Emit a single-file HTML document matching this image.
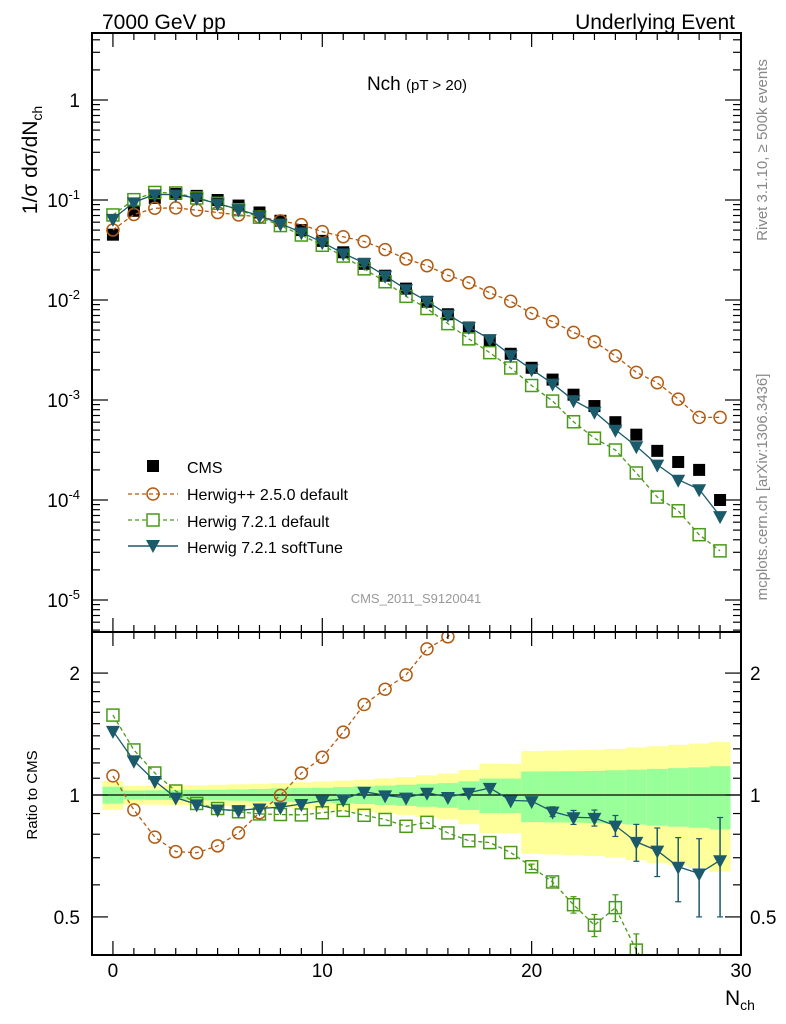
<!DOCTYPE html>
<html><head><meta charset="utf-8">
<style>
html,body{margin:0;padding:0;background:#fff;width:786px;height:1024px;overflow:hidden;}
svg{display:block;font-family:"Liberation Sans",sans-serif;}
</style></head>
<body>
<svg id="chart" width="786" height="1024" viewBox="0 0 786 1024" xmlns="http://www.w3.org/2000/svg">
<text x="102" y="29" font-size="21">7000 GeV pp</text>
<text x="735" y="29" font-size="21" text-anchor="end">Underlying Event</text>
<text x="417" y="90" font-size="19" text-anchor="middle">Nch <tspan font-size="15">(pT &gt; 20)</tspan></text>
<text transform="translate(37,160) rotate(-90)" font-size="21" text-anchor="middle">1/σ dσ/dN<tspan font-size="14" dy="5">ch</tspan></text>
<text transform="translate(767,150) rotate(-90)" font-size="15" fill="#888" text-anchor="middle">Rivet 3.1.10, ≥ 500k events</text>
<text transform="translate(767,487) rotate(-90)" font-size="15" fill="#888" text-anchor="middle">mcplots.cern.ch [arXiv:1306.3436]</text>
<text x="416" y="603" font-size="13" fill="#999" text-anchor="middle">CMS_2011_S9120041</text>
<text transform="translate(37,795) rotate(-90)" font-size="15" text-anchor="middle">Ratio to CMS</text>
<text x="725" y="1005" font-size="21">N<tspan font-size="14" dy="5">ch</tspan></text>
<g id="bands"></g>
<g id="marks"></g>
<g id="axes"></g>
<g id="legend">
  <rect x="147" y="460" width="12" height="12" fill="#000"/>
  <text x="187" y="473" font-size="16">CMS</text>
  <line x1="128" y1="494" x2="178" y2="494" stroke="#b35a0f" stroke-width="1.3" stroke-dasharray="4,3"/>
  <circle cx="153" cy="494" r="6" fill="none" stroke="#b35a0f" stroke-width="1.5"/>
  <text x="187" y="500" font-size="16">Herwig++ 2.5.0 default</text>
  <line x1="128" y1="520" x2="178" y2="520" stroke="#4a9a1a" stroke-width="1.3" stroke-dasharray="4,3"/>
  <rect x="147" y="514" width="12" height="12" fill="#fff" stroke="#4a9a1a" stroke-width="1.5"/>
  <text x="187" y="527" font-size="16">Herwig 7.2.1 default</text>
  <line x1="128" y1="546" x2="178" y2="546" stroke="#1a5a6a" stroke-width="1.5"/>
  <path d="M146,540 L160,540 L153,553 Z" fill="#1a5a6a"/>
  <text x="187" y="553" font-size="16">Herwig 7.2.1 softTune</text>
</g>
</svg>
<script>
const nch = [0,1,2,3,4,5,6,7,8,9,10,11,12,13,14,15,16,17,18,19,20,21,22,23,24,25,26,27,28,29];
const cmsValues = [0.045,0.078,0.105,0.115,0.11,0.1,0.088,0.075,0.062,0.05,0.039,0.03,0.023,0.0175,0.013,0.0096,0.0072,0.0053,0.0039,0.0029,0.0021,0.0016,0.00113,0.00087,0.0006,0.00045,0.00031,0.00024,0.0002,0.0001];
const herwigppRatio = [1.115,0.919,0.787,0.725,0.72,0.749,0.806,0.904,0.998,1.133,1.239,1.43,1.673,1.824,1.98,2.295,2.458,2.81,3.03,3.35,3.5,3.8,4.2,4.4,4.6,4.2,4.8,4.25,3.35,6.7];
const herwig721Ratio = [1.575,1.292,1.133,1.023,0.953,0.926,0.909,0.898,0.895,0.893,0.904,0.916,0.891,0.87,0.837,0.856,0.806,0.771,0.763,0.721,0.665,0.61,0.536,0.477,0.527,0.414,0.345,0.325,0.225,0.31];
const softTuneRatio = [1.44,1.215,1.083,0.985,0.948,0.921,0.916,0.926,0.933,0.95,0.968,0.975,1.019,0.998,0.985,1.013,0.989,1.013,1.041,0.97,0.966,0.91,0.881,0.878,0.84,0.766,0.729,0.665,0.64,0.69];
const softTuneErr = [0,0,0,0,0,0,0,0,0,0,0,0,0,0,0,0,0,0,0,0,0.01,0.025,0.035,0.04,0.05,0.08,0.1,0.12,0.14,0.19];
const herwig721Err = [0,0,0,0,0,0,0,0,0,0,0,0,0,0,0,0,0,0,0,0,0.01,0.015,0.025,0.03,0.04,0.04,0.04,0.04,0.04,0.04];
const totalErr = [0.082,0.053,0.054,0.055,0.056,0.06,0.063,0.066,0.07,0.075,0.08,0.085,0.091,0.099,0.107,0.118,0.13,0.153,0.194,0.194,0.284,0.287,0.29,0.293,0.3,0.31,0.32,0.33,0.34,0.353];
const statErr = [0.048,0.026,0.027,0.028,0.029,0.03,0.032,0.035,0.038,0.04,0.042,0.046,0.05,0.055,0.06,0.065,0.07,0.081,0.098,0.098,0.143,0.144,0.145,0.147,0.151,0.155,0.16,0.165,0.17,0.178];
const mainTicks = ["1","10^-1","10^-2","10^-3","10^-4","10^-5"];
const ratioTicks = [0.5,1,2];
const xTicks = [0,10,20,30];

const NS="http://www.w3.org/2000/svg";
const L=92,R=741,T=33,MB=632,RB=955;
const xs=v=>L+(v+1)*(R-L)/31;
const ymain=v=>100-100*Math.log10(v);
const yratio=r=>Math.min(990,Math.max(600,795-405*Math.log10(r)));
function mk(tag,attrs,parent){const e=document.createElementNS(NS,tag);for(const k in attrs)e.setAttribute(k,attrs[k]);parent.appendChild(e);return e;}
const bands=document.getElementById('bands'),marks=document.getElementById('marks'),axes=document.getElementById('axes');

const defs=mk('defs',{},document.getElementById('chart'));
const c1=mk('clipPath',{id:'cm'},defs);mk('rect',{x:L,y:T,width:R-L,height:MB-T},c1);
const c2=mk('clipPath',{id:'cr'},defs);mk('rect',{x:L,y:MB,width:R-L,height:RB-MB},c2);

nch.forEach((n,i)=>{
  const x0=xs(n-0.5),x1=xs(n+0.5);
  const yb=mk('rect',{x:x0,y:yratio(1+totalErr[i]),width:x1-x0,height:yratio(1-totalErr[i])-yratio(1+totalErr[i]),fill:'#ffff99'},bands);
  
  
  const gb=mk('rect',{x:x0,y:yratio(1+statErr[i]),width:x1-x0,height:yratio(1-statErr[i])-yratio(1+statErr[i]),fill:'#99ff99'},bands);
  
  
});
mk('line',{x1:L,x2:R,y1:yratio(1),y2:yratio(1),stroke:'#000','stroke-width':1.2},bands);

const gm=mk('g',{'clip-path':'url(#cm)'},marks);
const gr=mk('g',{'clip-path':'url(#cr)'},marks);

function series(parent,vals,yf,color,dash,marker,name,errs){
  const pts=nch.map((n,i)=>xs(n)+','+yf(vals[i])).join(' ');
  const pl=mk('polyline',{points:pts,fill:'none',stroke:(marker==='filled'?'none':color),'stroke-width':1.3,'stroke-dasharray':dash},parent);
  
  
  nch.forEach((n,i)=>{
    const cx=xs(n),cy=yf(vals[i]);
    if(errs&&errs[i]>0){
      const r0=vals[i],e=errs[i];
      mk('line',{x1:cx,x2:cx,y1:yratio(r0+e),y2:yratio(Math.max(r0-e,0.01)),stroke:color,'stroke-width':1.5},parent);
      mk('line',{x1:cx-3,x2:cx+3,y1:yratio(r0+e),y2:yratio(r0+e),stroke:color,'stroke-width':1.2},parent);
      mk('line',{x1:cx-3,x2:cx+3,y1:yratio(r0-e),y2:yratio(r0-e),stroke:color,'stroke-width':1.2},parent);
    }
    let m;
    if(marker==='circle') m=mk('circle',{cx:cx,cy:cy,r:6,fill:'none',stroke:color,'stroke-width':1.5},parent);
    else if(marker==='square') m=mk('rect',{x:cx-6,y:cy-6,width:12,height:12,fill:'none',stroke:color,'stroke-width':1.5},parent);
    else if(marker==='tri') m=mk('path',{d:`M${cx-7},${cy-5} L${cx+7},${cy-5} L${cx},${cy+8} Z`,fill:color},parent);
    else m=mk('rect',{x:cx-6,y:cy-6,width:12,height:12,fill:color},parent);
    
    
  });
}
series(gm,cmsValues,ymain,'#000','none','filled','cms');
series(gm,cmsValues.map((v,i)=>v*herwigppRatio[i]),ymain,'#b35a0f','4,3','circle','herwigpp');
series(gm,cmsValues.map((v,i)=>v*herwig721Ratio[i]),ymain,'#4a9a1a','4,3','square','herwig721');
series(gm,cmsValues.map((v,i)=>v*softTuneRatio[i]),ymain,'#1a5a6a','none','tri','softtune');
series(gr,herwigppRatio,yratio,'#b35a0f','4,3','circle','herwigpp-ratio');
series(gr,herwig721Ratio,yratio,'#4a9a1a','4,3','square','herwig721-ratio',herwig721Err);
series(gr,softTuneRatio,yratio,'#1a5a6a','none','tri','softtune-ratio',softTuneErr);

const f1=mk('rect',{x:L,y:T,width:R-L,height:MB-T,fill:'none',stroke:'#000','stroke-width':2},axes);


const f2=mk('rect',{x:L,y:MB,width:R-L,height:RB-MB,fill:'none',stroke:'#000','stroke-width':2},axes);


for(let v=-1;v<=30;v++){
  const x=xs(v),len=(v%10===0)?14:7;
  [[T,1],[MB,-1],[MB,1],[RB,-1]].forEach(([y,d])=>mk('line',{x1:x,x2:x,y1:y,y2:y+d*len,stroke:'#000','stroke-width':1.2},axes));
}
xTicks.forEach(v=>{const t=mk('text',{x:xs(v),y:977,'font-size':19,'text-anchor':'middle'},axes);t.textContent=v;
  });
for(let d=-6;d<=0;d++){for(let k=1;k<=9;k++){const v=k*Math.pow(10,d);const y=ymain(v);if(y<T||y>MB)continue;const len=k===1?16:8;
  mk('line',{x1:L,x2:L+len,y1:y,y2:y,stroke:'#000','stroke-width':1.2},axes);mk('line',{x1:R,x2:R-len,y1:y,y2:y,stroke:'#000','stroke-width':1.2},axes);}}
mainTicks.forEach((lab,i)=>{const y=ymain(Math.pow(10,-i))+7;const t=mk('text',{x:80,y:y,'font-size':19,'text-anchor':'end'},axes);
  
  if(lab==='1')t.textContent='1';else{const p=lab.split('^');t.textContent=p[0];const s=mk('tspan',{dy:-8,'font-size':13},t);s.textContent=p[1];}});
[0.5,0.6,0.7,0.8,0.9,1,1.1,1.2,1.3,1.4,1.5,1.6,1.7,1.8,1.9,2].forEach(v=>{const y=yratio(v);const len=(v===0.5||v===1||v===2)?16:8;
  mk('line',{x1:L,x2:L+len,y1:y,y2:y,stroke:'#000','stroke-width':1.2},axes);mk('line',{x1:R,x2:R-len,y1:y,y2:y,stroke:'#000','stroke-width':1.2},axes);});
ratioTicks.forEach(v=>{const y=yratio(v)+7;
  const t=mk('text',{x:80,y:y,'font-size':19,'text-anchor':'end'},axes);t.textContent=v;
  
  const t2=mk('text',{x:750,y:y,'font-size':19},axes);t2.textContent=v;
  });
</script>
</body></html>
